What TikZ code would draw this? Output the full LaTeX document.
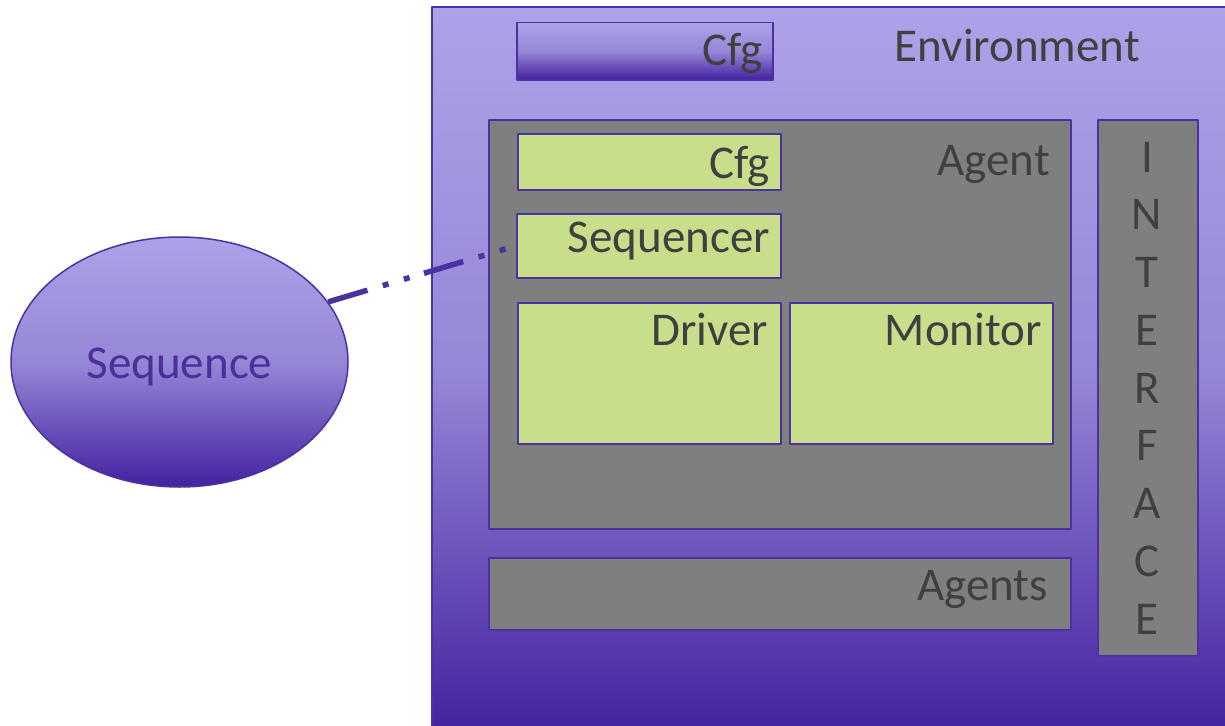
\documentclass[tikz,border=0pt]{standalone}
\usepackage{fontspec}
\setmainfont{Carlito}
\usetikzlibrary{shapes.geometric}
\definecolor{lav}{RGB}{173,162,232}
\definecolor{lavmid}{RGB}{150,134,215}
\definecolor{uvdark}{RGB}{68,33,160}
\definecolor{rim}{RGB}{75,50,160}
\definecolor{boxgray}{RGB}{127,127,127}
\definecolor{leaf}{RGB}{201,222,138}
\definecolor{ink}{RGB}{64,64,64}
\definecolor{seqink}{RGB}{75,47,155}
\begin{document}
\begin{tikzpicture}[x=1pt, y=-1pt, line join=round,
		font=\fontsize{47}{56}\selectfont,
		grad/.style={top color=lav, bottom color=uvdark, middle color=lavmid},
		envbox/.style={grad, draw=rim, line width=2pt, anchor=north west, inner sep=0pt},
		graybox/.style={fill=boxgray, draw=rim, line width=1.5pt, anchor=north west, inner sep=0pt},
		leafbox/.style={fill=leaf, draw=rim, line width=1.5pt, anchor=north west, inner sep=0pt},
		lbl/.style={text=ink, inner sep=0pt, anchor=base east}]
		\useasboundingbox (0,0) rectangle (1225,725);
		\clip (0,0) rectangle (1225,725);
		% environment and its config
		\node[envbox, minimum width=800, minimum height=730] (env) at (431,6) {};
		\node[lbl] (envtxt) at (1140,62) {Environment};
		\node[envbox, line width=1.5pt, minimum width=256, minimum height=57] (ecfg) at (516,22) {};
		\node[lbl] (ecfgtxt) at (763,65) {Cfg};
		% agent with its parts
		\node[graybox, minimum width=582, minimum height=409] (agent) at (488,119) {};
		\node[lbl] (agenttxt) at (1050,175) {Agent};
		\node[leafbox, minimum width=263, minimum height=56] (acfg) at (517,133) {};
		\node[lbl] (acfgtxt) at (770,178) {Cfg};
		\node[leafbox, minimum width=264, minimum height=64] (seqr) at (516,213) {};
		\node[lbl] (seqrtxt) at (770,252) {Sequencer};
		\node[leafbox, minimum width=263, minimum height=141] (drv) at (517,302) {};
		\node[lbl] (drvtxt) at (768,345) {Driver};
		\node[leafbox, minimum width=263, minimum height=141] (mon) at (789,302) {};
		\node[lbl] (montxt) at (1042,345) {Monitor};
		\node[graybox, minimum width=582, minimum height=72] (agents) at (488,557) {};
		\node[lbl] (agentstxt) at (1048,600) {Agents};
		% interface column
		\node[graybox, minimum width=100, minimum height=536] (iface) at (1097,119) {};
		\foreach \ch [count=\i from 0] in {I,N,T,E,R,F,A,C,E}
			\node[lbl, anchor=base] (if\i) at (1147,{172+57.75*\i}) {\ch};
		% sequence bubble
		\node[ellipse, grad, draw=rim, line width=1.5pt, minimum width=337, minimum height=250, inner sep=0pt] (seq) at (179.5,362) {};
		\node[text=seqink, inner sep=0pt, anchor=base] (seqtxt) at (179.5,378) {Sequence};
		\draw[rim, line width=5.5pt, dash pattern=on 41pt off 16pt on 6pt off 16pt on 6pt off 15pt] (seq.22) -- (seqr.west);
	\end{tikzpicture}
\end{document}
